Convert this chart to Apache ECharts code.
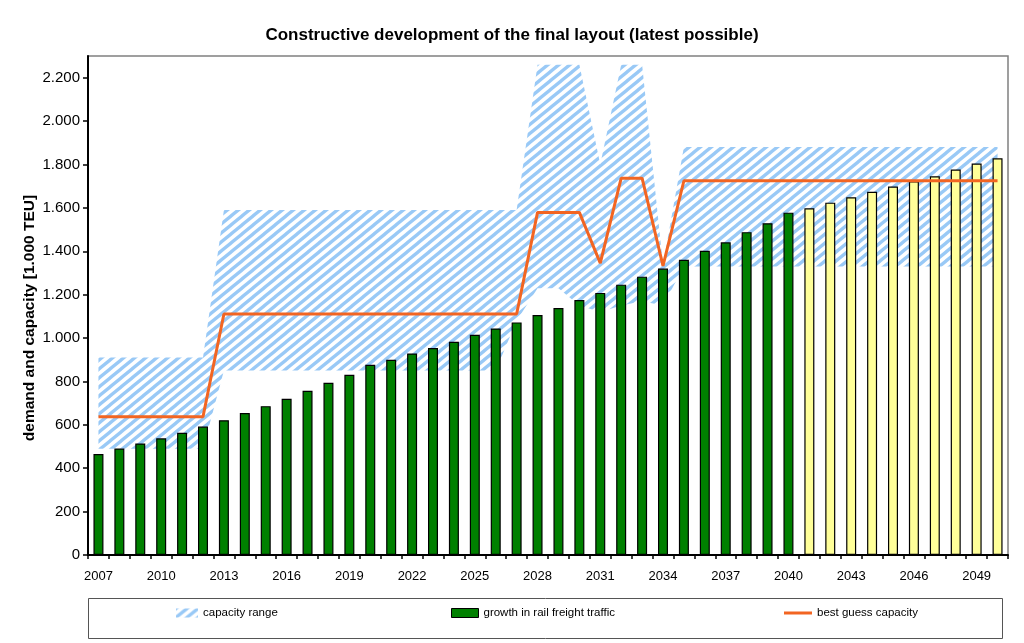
<!DOCTYPE html>
<html><head><meta charset="utf-8">
<script src="https://cdn.jsdelivr.net/npm/echarts@6/dist/echarts.min.js"></script>
<style>html,body{margin:0;padding:0;background:#fff}#c{width:1024px;height:643px}</style>
</head><body><div id="c"></div>
<script>
const years = ['2007','2008','2009','2010','2011','2012','2013','2014','2015','2016','2017','2018','2019','2020','2021','2022','2023','2024','2025','2026','2027','2028','2029','2030','2031','2032','2033','2034','2035','2036','2037','2038','2039','2040','2041','2042','2043','2044','2045','2046','2047','2048','2049','2050'];
const lastObservedYear = '2040';
const demand = [465,491,514,538,563,592,621,654,686,720,757,794,831,877,900,929,954,983,1015,1044,1072,1106,1138,1175,1208,1246,1283,1320,1361,1402,1441,1488,1529,1578,1598,1624,1649,1674,1698,1722,1746,1777,1804,1829];
const bestGuess = [637,637,637,637,637,637,1111,1111,1111,1111,1111,1111,1111,1111,1111,1111,1111,1111,1111,1111,1111,1579,1579,1579,1345,1737,1737,1333,1725,1725,1725,1725,1725,1725,1725,1725,1725,1725,1725,1725,1725,1725,1725,1725];
const capLow = [490,490,490,490,490,490,850,850,850,850,850,850,850,850,850,850,850,850,850,850,1080,1230,1230,1150,1120,1150,1170,1150,1330,1330,1330,1330,1330,1330,1330,1330,1330,1330,1330,1330,1330,1330,1330,1330];
const capHigh = [910,910,910,910,910,910,1590,1590,1590,1590,1590,1590,1590,1590,1590,1590,1590,1590,1590,1590,1590,2260,2260,2260,1800,2260,2260,1335,1880,1880,1880,1880,1880,1880,1880,1880,1880,1880,1880,1880,1880,1880,1880,1880];
const yTicks = [0,200,400,600,800,1000,1200,1400,1600,1800,2000,2200];
const yAxisTitle = 'demand and capacity [1.000 TEU]';

const FONT = 'Liberation Sans, Arial, sans-serif';
function hatchCanvas(){
  const c = document.createElement('canvas'); c.width = 11; c.height = 9;
  const g = c.getContext('2d');
  g.strokeStyle = '#99c9f6'; g.lineWidth = 3.3;
  for (const dx of [-11, 0, 11]) { g.beginPath(); g.moveTo(dx - 11, 18); g.lineTo(dx + 22, -9); g.stroke(); }
  return c;
}
const hatch = { image: hatchCanvas(), repeat: 'repeat' };
const fmt = v => String(v).replace(/\B(?=(\d{3})+(?!\d))/g, '.');

const chart = echarts.init(document.getElementById('c'), null, {renderer:'canvas'});
chart.setOption({
  animation: false,
  backgroundColor: '#fff',
  title: { text: 'Constructive development of the final layout (latest possible)', left: 'center', top: 27, padding: 0,
    textStyle: { fontFamily: FONT, fontSize: 17, fontWeight: 'bold', color: '#000' } },
  grid: { left: 88, right: 16, top: 56, bottom: 88, show: true, borderColor: '#808080', borderWidth: 1.5 },
  legend: [
    { left: 176, top: 607, padding: 0, itemWidth: 22, itemHeight: 9, textStyle: { fontFamily: FONT, fontSize: 11.5, color: '#000' },
      data: [{ name: 'capacity range', icon: 'rect', itemStyle: { color: hatch, borderWidth: 0 } }] },
    { left: 451, top: 607, padding: 0, itemWidth: 27, itemHeight: 9, textStyle: { fontFamily: FONT, fontSize: 11.5, color: '#000' },
      data: [{ name: 'growth in rail freight traffic', icon: 'rect', itemStyle: { color: '#008000', borderColor: '#000', borderWidth: 1 } }] },
    { left: 784, top: 607, padding: 0, itemWidth: 28, itemHeight: 3, textStyle: { fontFamily: FONT, fontSize: 11.5, color: '#000' },
      data: [{ name: 'best guess capacity', icon: 'rect', itemStyle: { color: '#F26522', borderWidth: 0 } }] }
  ],
  graphic: [
    { type: 'rect', left: 86, top: 596, shape: { width: 914, height: 40 }, style: { fill: 'none', stroke: '#555', lineWidth: 1 }, silent: true },
    { type: 'text', x: 30, y: 318, rotation: Math.PI / 2, silent: true,
      style: { text: yAxisTitle, align: 'center', verticalAlign: 'middle', fontFamily: FONT, fontSize: 15.5, fontWeight: 'bold', fill: '#000' } }
  ],
  xAxis: {
    type: 'category', data: years, boundaryGap: true,
    axisLine: { show: true, lineStyle: { color: '#000', width: 2 } },
    axisTick: { show: true, interval: 0, length: 4, lineStyle: { color: '#000', width: 1.5 } },
    axisLabel: { interval: 2, margin: 15, fontFamily: FONT, fontSize: 13, color: '#000' }
  },
  yAxis: {
    type: 'value', min: 0, max: 2300, interval: 200,
    splitLine: { show: false },
    axisLine: { show: true, lineStyle: { color: '#000', width: 2 } },
    axisTick: { show: true, length: 5, customValues: yTicks, lineStyle: { color: '#000', width: 1.5 } },
    axisLabel: { customValues: yTicks, margin: 8, fontFamily: FONT, fontSize: 15, color: '#000', formatter: v => fmt(v) }
  },
  series: [
    { name: 'capacity low', type: 'line', stack: 'cap', data: capLow, symbol: 'none', silent: true, z: 1,
      lineStyle: { width: 0, opacity: 0 } },
    { name: 'capacity range', type: 'line', stack: 'cap', data: capHigh.map((h, i) => h - capLow[i]), symbol: 'none', z: 1,
      color: '#99c9f6', lineStyle: { width: 0, opacity: 0 }, areaStyle: { color: hatch, opacity: 1 } },
    { name: 'growth in rail freight traffic', type: 'bar', data: demand, barWidth: 10, z: 2,
      itemStyle: { color: p => (years[p.dataIndex] > lastObservedYear ? '#FFFF99' : '#008000'), borderColor: '#000', borderWidth: 1.2 } },
    { name: 'best guess capacity', type: 'line', data: bestGuess, symbol: 'none', z: 3, color: '#F26522',
      lineStyle: { color: '#F26522', width: 3 } }
  ]
});
</script></body></html>
